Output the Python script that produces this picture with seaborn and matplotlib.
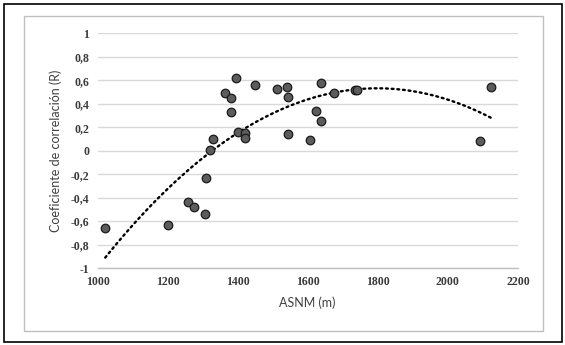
import numpy as np
import matplotlib.pyplot as plt
import seaborn as sns
import pandas as pd
from matplotlib.patches import Rectangle

# values
asnm = [1022, 1200, 1258, 1274, 1306, 1309, 1321, 1331, 1365, 1382, 1382, 1396, 1402, 1421,
        1421, 1450, 1513, 1541, 1544, 1544, 1607, 1623, 1639, 1639, 1676, 1735, 1740, 2092, 2124]
r = [-0.66, -0.63, -0.44, -0.48, -0.54, -0.23, 0.01, 0.10, 0.49, 0.45, 0.33, 0.62, 0.16, 0.15,
     0.11, 0.56, 0.53, 0.54, 0.46, 0.14, 0.09, 0.34, 0.58, 0.25, 0.49, 0.52, 0.515, 0.08, 0.54]
xticks = [1000, 1200, 1400, 1600, 1800, 2000, 2200]
yticks = [-1, -0.8, -0.6, -0.4, -0.2, 0, 0.2, 0.4, 0.6, 0.8, 1]
ytick_labels = ['-1', '-0,8', '-0,6', '-0,4', '-0,2', '0', '0,2', '0,4', '0,6', '0,8', '1']

df = pd.DataFrame({'ASNM': asnm, 'R': r})

sns.set_style('white')
plt.rcParams['font.family'] = ['Lato', 'DejaVu Sans']

fig = plt.figure(figsize=(5.65, 3.45), dpi=100)
ax = fig.add_axes([0.1726, 0.223, 0.744, 0.680])

# polynomial (order 2) trend line, dotted
sns.regplot(data=df, x='ASNM', y='R', order=2, ci=None, scatter=False, ax=ax,
            line_kws=dict(color='black', lw=1.7, linestyle=(0, (0.8, 1.6)),
                          dash_capstyle='round', zorder=2))
sns.scatterplot(data=df, x='ASNM', y='R', ax=ax, s=38, color='#5c5c5c',
                edgecolor='#1a1a1a', linewidth=0.9, zorder=3)

tick_font = dict(family='Liberation Serif', fontsize=8.5, fontweight='bold', color='#3a3a3a')
ax.set_xlim(1000, 2200)
ax.set_ylim(-1, 1)
ax.set_xticks(xticks)
ax.set_xticklabels([str(t) for t in xticks], **tick_font)
ax.set_yticks(yticks)
ax.set_yticklabels(ytick_labels, **tick_font)
ax.tick_params(length=0, pad=6)
ax.yaxis.grid(True, color='#d9d9d9', lw=1)
ax.set_axisbelow(True)
for s in ['top', 'right', 'left']:
    ax.spines[s].set_visible(False)
ax.spines['bottom'].set_color('#c0c0c0')
ax.spines['bottom'].set_linewidth(1)

ax.set_xlabel('ASNM (m)', fontsize=9, color='#404040', labelpad=6)
ax.set_ylabel('Coeficiente de correlación (R)', fontsize=9, color='#404040', labelpad=6)

# frames around the chart
fig.patches.append(Rectangle((23.5 / 565, 1 - 331 / 345), 519.5 / 565, 315 / 345,
                             transform=fig.transFigure, fill=False, ec='#bfbfbf', lw=1))
fig.patches.append(Rectangle((3.5 / 565, 1 - 342 / 345), 558 / 565, 338 / 345,
                             transform=fig.transFigure, fill=False, ec='black', lw=1.2))

fig.savefig('out.png', dpi=100)
